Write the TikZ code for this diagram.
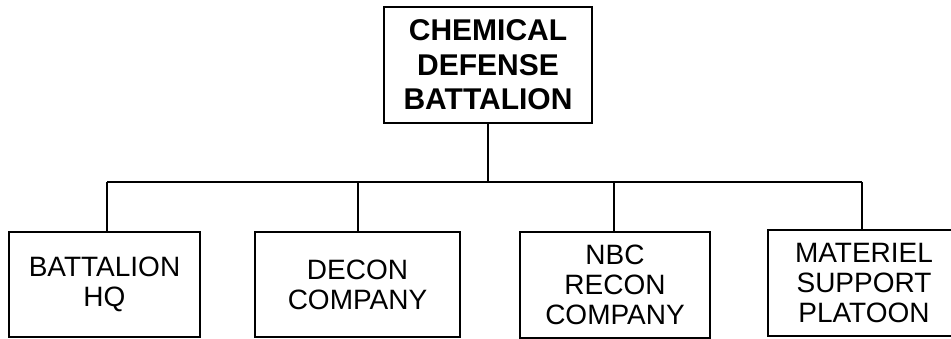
\documentclass[tikz,border=0pt]{standalone}
\usepackage{fontspec}
\setmainfont{Liberation Sans}
\begin{document}
\begin{tikzpicture}[x=1pt,y=-1pt,line width=1.3pt,
  topbox/.style={draw,inner sep=0pt,align=center,font=\fontsize{30}{34.5}\selectfont\bfseries,minimum width=208pt,minimum height=116pt},
  unitbox/.style={draw,inner sep=0pt,align=center,font=\fontsize{28}{30}\selectfont,minimum height=105pt}]
\useasboundingbox (0,0) rectangle (951,339);
\node[topbox] (top) at (488,65) {CHEMICAL\\DEFENSE\\BATTALION};
\node[unitbox,minimum width=191pt] (b1) at (104.5,284.5) {BATTALION\\HQ};
\node[unitbox,minimum width=205pt] (b2) at (357.5,284.5) {DECON\\COMPANY};
\node[unitbox,minimum width=190pt,minimum height=106pt] (b3) at (615,285) {NBC\\RECON\\COMPANY};
\node[unitbox,minimum width=192pt,minimum height=106pt] (b4) at (864,283) {MATERIEL\\SUPPORT\\PLATOON};
\coordinate (bus) at (488,182);
\coordinate (j1) at (107,182);
\coordinate (j2) at (358,182);
\coordinate (j3) at (614,182);
\coordinate (j4) at (862,182);
\draw (top.south) -- (bus);
\draw (j1) -- (j4);
\draw (j1) -- (j1 |- b1.north);
\draw (j2) -- (j2 |- b2.north);
\draw (j3) -- (j3 |- b3.north);
\draw (j4) -- (j4 |- b4.north);
\end{tikzpicture}
\end{document}
